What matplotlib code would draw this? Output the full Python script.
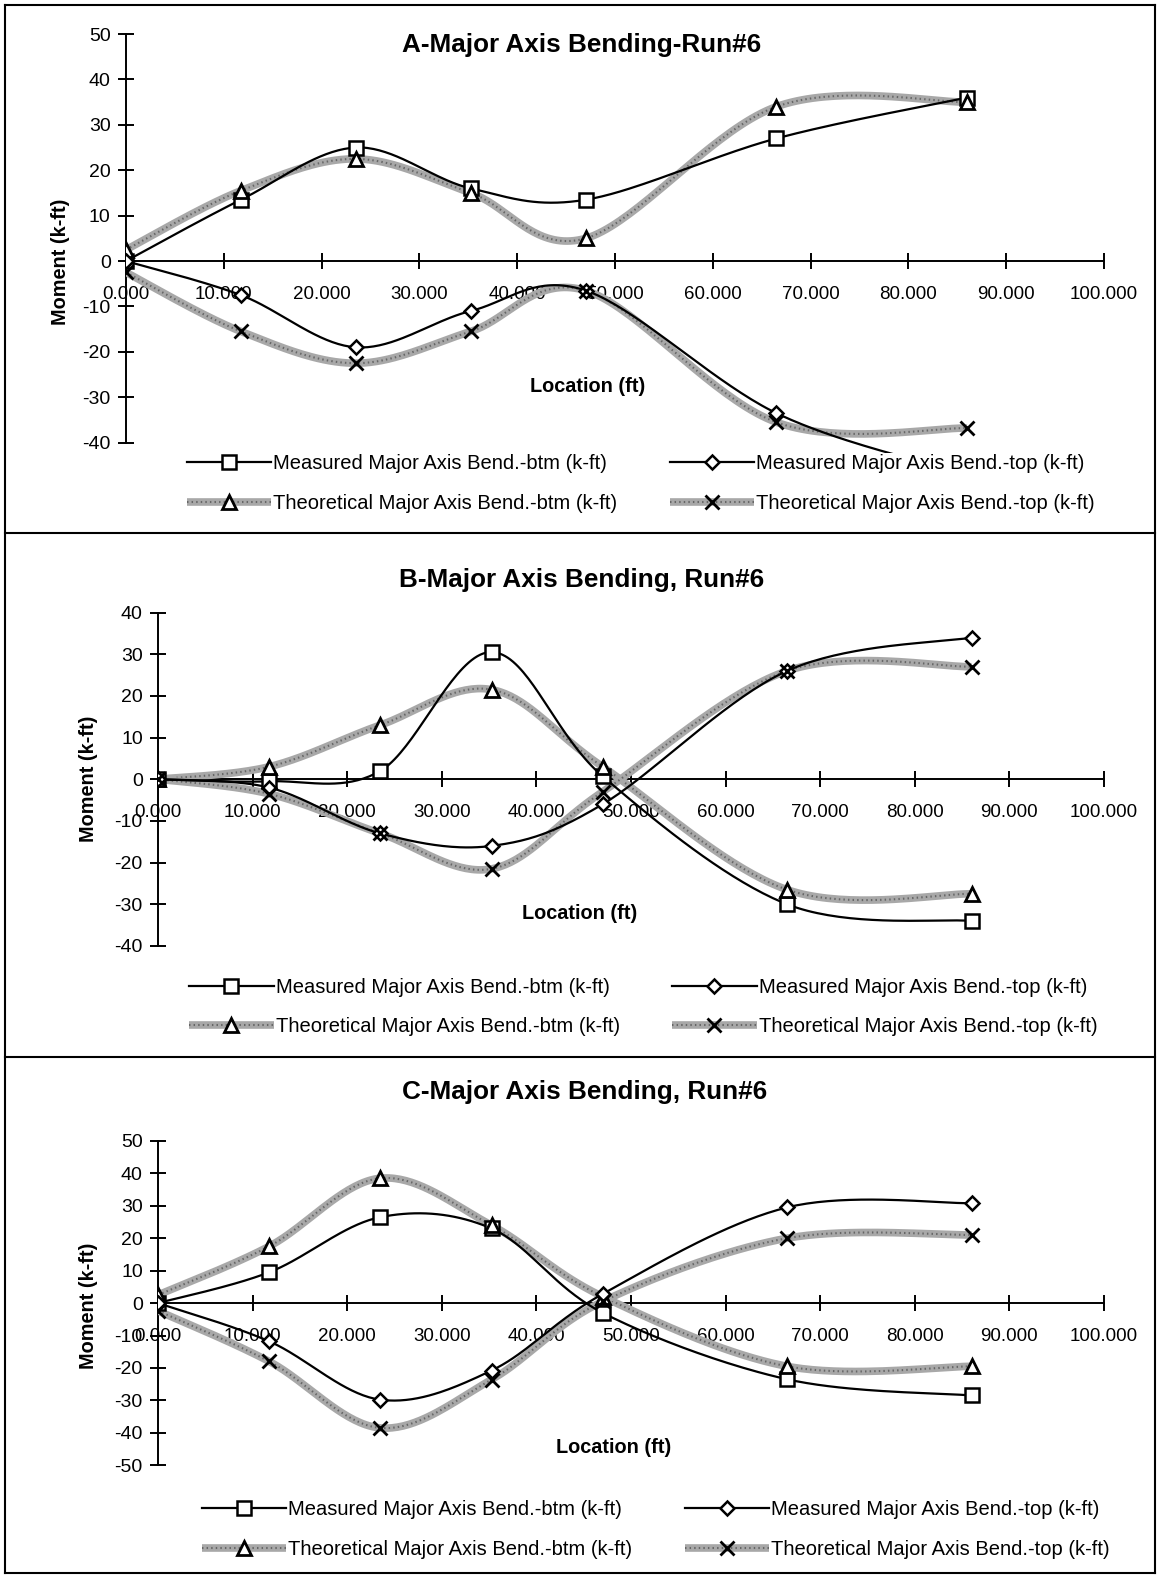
import numpy as np
import matplotlib
matplotlib.use("Agg")
import matplotlib.pyplot as plt
from matplotlib.lines import Line2D
from matplotlib.ticker import FormatStrFormatter

plt.rcParams['font.family'] = ['Liberation Sans', 'DejaVu Sans']
plt.rcParams['axes.unicode_minus'] = False

# Span locations (ft)
location = [0.0, 11.75, 23.5, 35.25, 47.0, 66.5, 86.0]

# Panel A - Run#6
a_meas_btm = [0, 13.5, 25, 16, 13.5, 27, 36]
a_meas_top = [0, -7.5, -19, -11, -6.5, -33.5, -47]
a_theo_btm = [2.5, 15.5, 22.5, 15, 5, 34, 35]
a_theo_top = [-2.5, -15.5, -22.5, -15.5, -6.5, -35.5, -36.8]

# Panel B - Run#6
b_meas_btm = [0, -0.5, 2, 30.5, 0.7, -30, -34]
b_meas_top = [0, -2, -13, -16, -6, 26, 34]
b_theo_btm = [0, 3, 13, 21.5, 3, -26.5, -27.5]
b_theo_top = [0, -3.5, -13, -21.5, -3, 26, 27]

# Panel C - Run#6
c_meas_btm = [0, 9.5, 26.5, 23, -3, -23.5, -28.5]
c_meas_top = [0, -11.8, -29.8, -20.8, 2.8, 29.5, 30.8]
c_theo_btm = [2.5, 17.5, 38.5, 24, 2, -19.5, -19.5]
c_theo_top = [-2.4, -18, -38.5, -23.6, 0.5, 20, 21]

labels = ["Measured Major Axis Bend.-btm (k-ft)",
          "Theoretical Major Axis Bend.-btm (k-ft)",
          "Measured Major Axis Bend.-top (k-ft)",
          "Theoretical Major Axis Bend.-top (k-ft)"]


def smooth(x, y, n=40):
    # Catmull-Rom curve through the points (like Excel's smoothed lines)
    pts = np.column_stack([x, y]).astype(float)
    P = np.vstack([pts[0], pts, pts[-1]])
    t = np.linspace(0, 1, n)[:, None]
    out = []
    for i in range(1, len(P) - 2):
        p0, p1, p2, p3 = P[i - 1], P[i], P[i + 1], P[i + 2]
        seg = 0.5 * (2 * p1 + (-p0 + p2) * t
                     + (2 * p0 - 5 * p1 + 4 * p2 - p3) * t ** 2
                     + (-p0 + 3 * p1 - 3 * p2 + p3) * t ** 3)
        out.append(seg if i == 1 else seg[1:])
    out = np.vstack(out)
    return out[:, 0], out[:, 1]


def measured(ax, y, marker, ms):
    sx, sy = smooth(location, y)
    line, = ax.plot(sx, sy, color='black', lw=1.6, zorder=4)
    mk, = ax.plot(location, y, ls='none', marker=marker, ms=ms, mfc='white',
                  mec='black', mew=1.8, zorder=6)
    return (line, mk)


def theoretical(ax, y, marker, ms):
    sx, sy = smooth(location, y)
    base, = ax.plot(sx, sy, color='#a8a8a8', lw=5.5, zorder=3,
                    solid_capstyle='butt')
    grain, = ax.plot(sx, sy, color='#666666', lw=1.5, zorder=3,
                     dashes=(0.7, 1.5))
    mfc = 'white' if marker == '^' else 'none'
    mk, = ax.plot(location, y, ls='none', marker=marker, ms=ms, mfc=mfc,
                  mec='black', mew=2.0, zorder=6)
    return (base, grain, mk)


def panel(rect, yticks, ylo, title, title_xy, xlabel_xy, ylabel_xy, leg_xy,
          mb, mt, tb, tt):
    ax = fig.add_axes(rect)
    ax.set_xlim(0, 100)
    ax.set_ylim(ylo, yticks[-1])
    ax.set_xticks(np.arange(0, 101, 10))
    ax.set_yticks(yticks)
    ax.xaxis.set_major_formatter(FormatStrFormatter('%.3f'))
    for s in ['top', 'right']:
        ax.spines[s].set_visible(False)
    ax.spines['bottom'].set_position(('data', 0))
    ax.spines['left'].set_bounds(yticks[0], yticks[-1])
    for s in ['bottom', 'left']:
        ax.spines[s].set_linewidth(1.4)
    ax.tick_params(axis='x', direction='inout', length=11, width=1.4,
                   pad=12.5, labelsize=13.5)
    ax.tick_params(axis='y', direction='inout', length=11, width=1.4,
                   pad=5.5, labelsize=14)
    ax.patch.set_visible(False)

    h_mb = measured(ax, mb, 's', 10)
    h_tb = theoretical(ax, tb, '^', 10)
    h_mt = measured(ax, mt, 'D', 7)
    h_tt = theoretical(ax, tt, 'x', 10)

    fig.text(title_xy[0], title_xy[1], title, ha='center', va='center',
             fontsize=18.8, fontweight='bold')
    fig.text(xlabel_xy[0], xlabel_xy[1], "Location (ft)", ha='center',
             va='center', fontsize=14.3, fontweight='bold')
    fig.text(ylabel_xy[0], ylabel_xy[1], "Moment (k-ft)", ha='center',
             va='center', rotation=90, fontsize=14.3, fontweight='bold')
    fig.legend([h_mb, h_tb, h_mt, h_tt], labels, loc='center',
               bbox_to_anchor=leg_xy, ncol=2, frameon=False, fontsize=14.5,
               numpoints=1, handlelength=4.2, handletextpad=0.1,
               columnspacing=2.6, labelspacing=1.0)
    return ax


fig = plt.figure(figsize=(11.63, 15.75), dpi=100)

# panel A: the plot area runs a little below -40, so the clipped
# measured-top curve shows past the last tick as in the original
panel([0.1083, 0.7126, 0.841, 0.2658], np.arange(-40, 51, 10), -42.2,
      "A-Major Axis Bending-Run#6", (0.5, 0.9713), (0.505, 0.7545),
      (0.052, 0.834), (0.551, 0.693),
      a_meas_btm, a_meas_top, a_theo_btm, a_theo_top)

panel([0.1359, 0.3994, 0.8134, 0.2117], np.arange(-40, 41, 10), -40,
      "B-Major Axis Bending, Run#6", (0.5, 0.632), (0.498, 0.4203),
      (0.076, 0.5054), (0.553, 0.3608),
      b_meas_btm, b_meas_top, b_theo_btm, b_theo_top)

panel([0.1359, 0.0697, 0.8134, 0.2059], np.arange(-50, 51, 10), -50,
      "C-Major Axis Bending, Run#6", (0.503, 0.3069), (0.5276, 0.0812),
      (0.076, 0.171), (0.564, 0.0289),
      c_meas_btm, c_meas_top, c_theo_btm, c_theo_top)

# page frame around the three charts
W, H = 1163.0, 1575.0
xl, xr = 5 / W, 1155 / W
for yy in [5, 533, 1057, 1573]:
    fig.add_artist(Line2D([xl, xr], [1 - yy / H, 1 - yy / H], color='black',
                          lw=1.5))
fig.add_artist(Line2D([xl, xl], [1 - 5 / H, 1 - 1573 / H], color='black', lw=1.5))
fig.add_artist(Line2D([xr, xr], [1 - 5 / H, 1 - 1573 / H], color='black', lw=1.5))

fig.savefig("out.png", dpi=100)
